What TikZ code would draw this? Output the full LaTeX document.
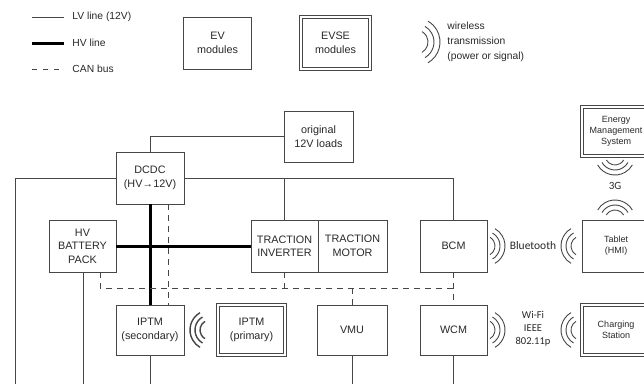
\documentclass[tikz,border=0pt]{standalone}
\usepackage{fontspec}
\setmainfont{Liberation Sans}
\newfontfamily\carl{Carlito}
\definecolor{linec}{RGB}{70,70,70}
\definecolor{txt}{RGB}{40,40,40}
\tikzset{
  box/.style={draw=linec, line width=0.9pt, inner sep=0pt, align=center, text=txt,
              font=\fontsize{10.8}{13.5}\selectfont},
  dbox/.style={box, double=white, double distance=1.5pt},
  small/.style={font=\fontsize{9}{11}\selectfont},
  lv/.style={draw=linec, line width=0.9pt},
  hv/.style={draw=black, line width=3pt},
  can/.style={draw=linec, line width=0.9pt, dash pattern=on 6pt off 5pt},
  lbl/.style={text=txt, inner sep=0pt, align=left, font=\fontsize{10.3}{15}\selectfont},
  wtxt/.style={text=txt, inner sep=0pt, align=center, font=\carl\fontsize{10.5}{13}\selectfont},
  waves/.pic={
    \foreach \r in {10,15,20}
      \draw[draw=linec] (-60:\r pt) arc[start angle=-60, end angle=60, radius=\r pt];
  }
}
\begin{document}
\begin{tikzpicture}[x=1pt, y=-1pt, line width=0.9pt]
\useasboundingbox (0,0) rectangle (644,383);
\clip (0,0) rectangle (644,383);

% ---------- legend ----------
\coordinate (l1a) at (32,17);  \coordinate (l1b) at (64,17);
\coordinate (l2a) at (32,43);  \coordinate (l2b) at (64,43);
\coordinate (l3a) at (32,69);  \coordinate (l3b) at (64,69);
\draw[lv] (l1a) -- (l1b);
\draw[hv] (l2a) -- (l2b);
\draw[can, dash pattern=on 5pt off 6pt] (l3a) -- (l3b);
\node[lbl, anchor=west] (t1) at (72,17) {LV line (12V)};
\node[lbl, anchor=west] (t2) at (72,43) {HV line};
\node[lbl, anchor=west] (t3) at (72,69) {CAN bus};

\node[box, minimum width=68pt, minimum height=52pt] (ev) at (217.5,43) {EV\\modules};
\node[dbox, minimum width=69pt, minimum height=52pt] (evse) at (335.5,43) {EVSE\\modules};
\pic[scale=1.2] at (416,42) {waves};
\node[lbl, anchor=west] (wl) at (447,42) {wireless\\transmission\\(power or signal)};

% ---------- boxes ----------
\node[box, minimum width=69pt, minimum height=51pt] (orig) at (318.5,136.5) {original\\12V loads};
\node[box, minimum width=68pt, minimum height=52pt] (dcdc) at (150,178) {DCDC\\(HV→12V)};
\node[box, minimum width=67pt, minimum height=52pt] (batt) at (82.5,246) {HV\\BATTERY\\PACK};
\node[box, minimum width=67pt, minimum height=52pt] (inv) at (284.5,246) {TRACTION\\INVERTER};
\node[box, minimum width=69pt, minimum height=52pt] (mot) at (352.5,246) {TRACTION\\MOTOR};
\node[box, minimum width=67pt, minimum height=52pt] (bcm) at (453.5,246) {BCM};
\node[box, small, minimum width=68pt, minimum height=52pt] (tab) at (616,246) {Tablet\\(HMI)};
\node[dbox, small, minimum width=68pt, minimum height=49pt] (ems) at (616,131.5) {Energy\\Management\\System};
\node[box, minimum width=68pt, minimum height=50pt] (iptms) at (150,330) {IPTM\\(secondary)};
\node[dbox, minimum width=67pt, minimum height=50pt] (iptmp) at (251.5,330) {IPTM\\(primary)};
\node[box, minimum width=70pt, minimum height=50pt] (vmu) at (352,330) {VMU};
\node[box, minimum width=67pt, minimum height=50pt] (wcm) at (453.5,330) {WCM};
\node[dbox, small, minimum width=68pt, minimum height=50pt] (cs) at (616,330) {Charging\\Station};

% ---------- LV lines ----------
\coordinate (lvL) at (15,178);
\coordinate (bL) at (15,390);
\coordinate (bB) at (83,390);
\coordinate (bI) at (150,390);
\coordinate (bV) at (352,390);
\coordinate (bW) at (453.5,390);
\draw[lv] (dcdc.north) |- (orig.west);
\draw[lv] (dcdc.west) -- (lvL) -- (bL);
\draw[lv] (dcdc.east) -| (bcm.north);
\draw[lv] (inv.north) -- (inv.north |- dcdc.east);
\draw[lv] (batt.south -| bB) -- (bB);
\draw[lv] (iptms.south) -- (bI);
\draw[lv] (vmu.south) -- (bV);
\draw[lv] (wcm.south) -- (bW);

% ---------- HV lines ----------
\draw[hv] (batt.east) -- (inv.west);
\draw[hv] (dcdc.south) -- (iptms.north);

% ---------- CAN bus ----------
\coordinate (c1) at (100,288);
\coordinate (c2) at (453.5,288);
\coordinate (cx) at (168,0);
\draw[can] (batt.south -| c1) -- (c1) -- (c2);
\draw[can] (bcm.south) -- (wcm.north);
\draw[can] (inv.south) -- (inv.south |- c1);
\draw[can] (vmu.north |- c1) -- (vmu.north);
\draw[can] (dcdc.south -| cx) -- (iptms.north -| cx);

% ---------- wireless ----------
\pic[line width=1.4pt, rotate=180] at (210,330) {waves};
\pic at (485,246) {waves};
\pic[rotate=180] at (581,246) {waves};
\node[wtxt, font=\carl\fontsize{11.5}{13}\selectfont] (bt) at (533,246) {Bluetooth};
\pic[rotate=-90] at (615,155) {waves};
\pic[rotate=90] at (615,220) {waves};
\node[wtxt, font=\carl\fontsize{11}{13}\selectfont] (g3) at (615,186) {3G};
\pic at (485,330) {waves};
\pic[rotate=180] at (581,330) {waves};
\node[wtxt] (wifi) at (533,329) {Wi-Fi\\IEEE\\802.11p};
\end{tikzpicture}
\end{document}
